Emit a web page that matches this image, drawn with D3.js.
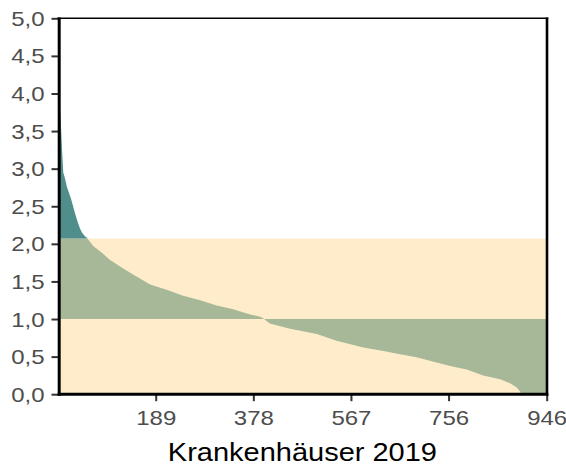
<!DOCTYPE html>
<html><head><meta charset="utf-8">
<script src="https://cdn.jsdelivr.net/npm/d3@7"></script>
<style>body{margin:0;background:#fff}text{font-family:"Liberation Sans",Arial,sans-serif}</style>
</head><body><svg id="c" width="566" height="469"></svg>
<script>
// Rank of hospital (sorted descending) and its ratio value
const ranks  = [1, 3, 6, 8, 10, 13, 17, 21, 25, 29, 33, 37, 42, 46, 52, 58, 68, 81, 88, 100, 120, 146, 178, 210, 242, 275, 307, 339, 372, 391, 397, 410, 449, 501, 539, 591, 630, 662, 694, 727, 759, 791, 823, 856, 875, 888, 894, 897, 946];
const ratios = [4.0, 3.9, 3.5, 3.2, 2.95, 2.88, 2.76, 2.68, 2.6, 2.5, 2.4, 2.31, 2.21, 2.15, 2.1, 2.06, 1.97, 1.9, 1.86, 1.79, 1.7, 1.59, 1.46, 1.39, 1.31, 1.25, 1.18, 1.13, 1.06, 1.03, 1.01, 0.94, 0.87, 0.8, 0.71, 0.62, 0.575, 0.53, 0.49, 0.43, 0.375, 0.33, 0.25, 0.2, 0.146, 0.09, 0.04, 0.0, 0.0];
const yTicks = [0, 0.5, 1, 1.5, 2, 2.5, 3, 3.5, 4, 4.5, 5];
const xTicks = [189, 378, 567, 756, 946];
const bandTop = 2.07;
const refLine = 1.0;
const xTitle = "Krankenhäuser 2019";
const nHospitals = 946;

const svg = d3.select("#c");
const x = d3.scaleLinear().domain([0, nHospitals]).range([58.1, 546.7]);
const y = d3.scaleLinear().domain([0, 5]).range([394.2, 18.3]);
const data = ranks.map((r, i) => ({r, v: ratios[i]}));

svg.append("rect")
  .attr("x", x(0)).attr("width", x(nHospitals) - x(0))
  .attr("y", y(bandTop)).attr("height", y(0) - y(bandTop))
  .attr("fill", "#feecca");

const green = d3.area().x(d => x(d.r)).y0(y(refLine)).y1(d => y(Math.min(d.v, bandTop)));
svg.append("path").datum(data).attr("d", green).attr("fill", "#a6b897");
const teal = d3.area().x(d => x(d.r)).y0(y(bandTop)).y1(d => y(Math.max(d.v, bandTop)));
svg.append("path").datum(data).attr("d", teal).attr("fill", "#4f8e8b");

const fmt = d => d3.format(".1f")(d).replace(".", ",");
const gy = svg.append("g").attr("transform", "translate(58.5,0)")
  .call(d3.axisLeft(y).tickValues(yTicks).tickFormat(fmt).tickSize(7));
gy.select(".domain").remove();
gy.selectAll(".tick line").attr("stroke", "#333").attr("stroke-width", 2);
gy.selectAll(".tick text").attr("x", 0).attr("dy", "0.35em")
  .attr("transform", "translate(-14,0) scale(1.2,1)")
  .attr("text-anchor", "end").attr("fill", "#4d4d4d").style("font-size", "20px");

const gx = svg.append("g").attr("transform", `translate(0,${y(0)})`)
  .call(d3.axisBottom(x).tickValues(xTicks).tickSize(7));
gx.select(".domain").remove();
gx.selectAll(".tick line").attr("stroke", "#333").attr("stroke-width", 2);
gx.selectAll(".tick text").attr("y", 0).attr("dy", 0)
  .attr("transform", "translate(0,31) scale(1.2,1)")
  .attr("text-anchor", "middle").attr("fill", "#4d4d4d").style("font-size", "20px");

// frame
const fr = svg.append("g").attr("stroke", "#000");
fr.append("line").attr("x1", 57.5).attr("x2", 548.3).attr("y1", 18.3).attr("y2", 18.3).attr("stroke-width", 1.6);
fr.append("line").attr("x1", 547).attr("x2", 547).attr("y1", 17.5).attr("y2", 395.7).attr("stroke-width", 2.6);
fr.append("line").attr("x1", 59.2).attr("x2", 59.2).attr("y1", 17.5).attr("y2", 395.7).attr("stroke-width", 3);
fr.append("line").attr("x1", 57.7).attr("x2", 548.3).attr("y1", 394.2).attr("y2", 394.2).attr("stroke-width", 3);

svg.append("text").attr("transform", `translate(${(x(0) + x(nHospitals)) / 2},461) scale(1.16,1)`)
  .attr("text-anchor", "middle").attr("fill", "#000").style("font-size", "25px").text(xTitle);
</script></body></html>
